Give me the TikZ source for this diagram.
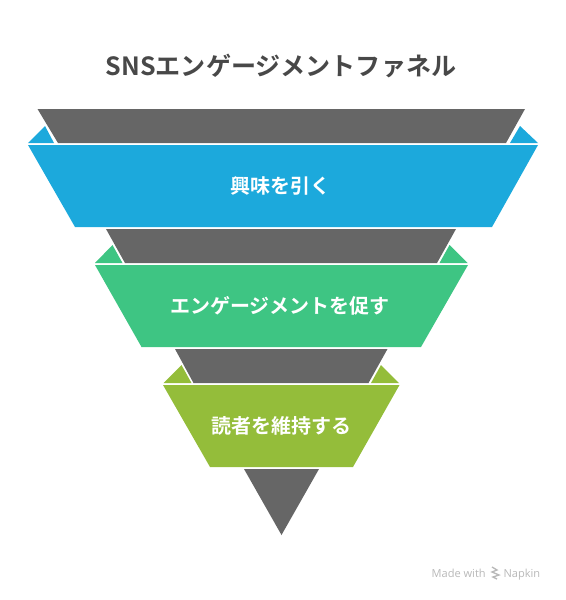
\documentclass[tikz,border=0pt]{standalone}
\usepackage{fontspec}
\setmainfont{Noto Sans CJK JP}[BoldFont={Noto Sans CJK JP Bold}]
\newfontfamily\creditfont{Open Sans}
\definecolor{funnelgray}{HTML}{666666}
\definecolor{funnelblue}{HTML}{1CA9DC}
\definecolor{funnelgreen}{HTML}{3EC583}
\definecolor{funnelolive}{HTML}{94BD3A}
\definecolor{titlegray}{HTML}{484848}
\definecolor{creditgray}{HTML}{B8B8B8}

\begin{document}
\begin{tikzpicture}[
		x=0.75pt,
		y=-0.75pt,
		stem/.style={fill=funnelgray},
		label/.style={align=center, text=white, font=\fontsize{15}{18}\selectfont\bfseries},
		title/.style={align=center, text=titlegray, font=\fontsize{18.8}{22}\selectfont\bfseries},
		credit/.style={anchor=base east, inner sep=0pt, text=creditgray, font=\fontsize{8.3}{10}\selectfont\creditfont}
		]
		\useasboundingbox (0,0) rectangle (565,600);
		
		% Title
		\node[title] (heading) at (281,66) {SNSエンゲージメントファネル};
		
		% First band
		\fill[stem] (37.5,109) -- (525,109) -- (506,143) -- (58,143) -- cycle;
		\fill[funnelblue] (28,143) -- (45,126) -- (54,143) -- cycle;
		\fill[funnelblue] (510,143) -- (520,126) -- (538,143) -- cycle;
		\fill[funnelblue] (28,145) -- (538,145) -- (492,227) -- (75,227) -- cycle;
		\node[label] (interest) at (280,186) {興味を引く};
		
		% Second band
		\fill[stem] (106,229) -- (456,229) -- (437,263) -- (125,263) -- cycle;
		\fill[funnelgreen] (95,263) -- (112.5,245) -- (122.5,263) -- cycle;
		\fill[funnelgreen] (439.5,263) -- (449.5,245) -- (467.5,263) -- cycle;
		\fill[funnelgreen] (95,265) -- (468,265) -- (421,347) -- (141.5,347) -- cycle;
		\node[label] (engage) at (280,306) {エンゲージメントを促す};
		
		% Third band
		\fill[stem] (175,349) -- (387.5,349) -- (368.5,383) -- (193.5,383) -- cycle;
		\fill[funnelolive] (163.5,383) -- (181.5,365) -- (191.5,383) -- cycle;
		\fill[funnelolive] (371,383) -- (381,365) -- (399,383) -- cycle;
		\fill[funnelolive] (163,385) -- (399.5,385) -- (353,467) -- (210,467) -- cycle;
		\node[label] (retain) at (281,426) {読者を維持する};
		
		% Bottom tip
		\fill[stem] (244,469) -- (319,469) -- (281.5,535) -- cycle;
		
		% Credit
		\node[credit] (brand) at (540.5,577) {Napkin};
		\node[credit] (made) at (486,577) {Made with};
		\draw[creditgray, line width=1pt] (492,567) -- (497,570) -- (492,572) -- (499,575) -- (493,577) -- (497,579);
		
	\end{tikzpicture}
\end{document}
